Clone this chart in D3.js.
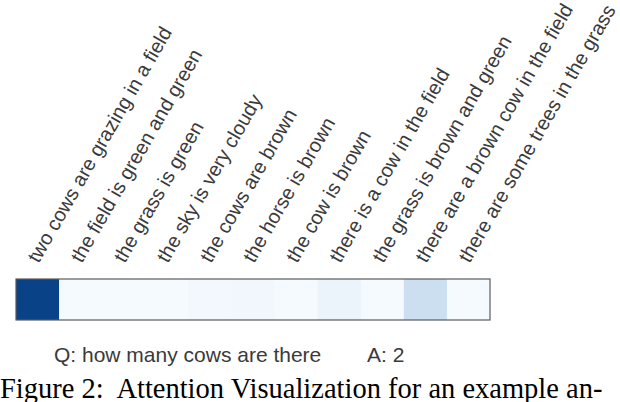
<!DOCTYPE html>
<html>
<head>
<meta charset="utf-8">
<script src="https://cdn.jsdelivr.net/npm/d3@7"></script>
<style>
  body { margin: 0; background: #fff; }
  svg { display: block; }
</style>
</head>
<body>
<div id="chart"></div>
<script>
const sentences = [
    'two cows are grazing in a field',
    'the field is green and green',
    'the grass is green',
    'the sky is very cloudy',
    'the cows are brown',
    'the horse is brown',
    'the cow is brown',
    'there is a cow in the field',
    'the grass is brown and green',
    'there are a brown cow in the field',
    'there are some trees in the grass'
];
const attention = [0.93, 0.01, 0.01, 0.01, 0.025, 0.03, 0.01, 0.06, 0.01, 0.22, 0.01];
const question = 'Q: how many cows are there';
const answer = 'A: 2';
const caption = 'Figure 2:  Attention Visualization for an example an-';

const width = 620;
const height = 402;
const stripLeft = 16;
const stripRight = 490;
const stripTop = 279;
const stripHeight = 41;

function buildChart() {
    const svg = d3.select('#chart')
        .append('svg')
        .attr('width', width)
        .attr('height', height);

    const xScale = d3.scaleBand()
        .domain(sentences.map((d, i) => i))
        .range([stripLeft, stripRight])
        .padding(0);

    const color = d3.scaleSequential(d3.interpolateBlues)
        .domain([0, 1]);

    svg.selectAll('rect.cell')
        .data(attention)
        .enter()
        .append('rect')
        .attr('class', 'cell')
        .attr('x', (d, i) => xScale(i))
        .attr('y', stripTop)
        .attr('width', xScale.bandwidth() + 0.5)
        .attr('height', stripHeight)
        .attr('fill', d => color(d));

    // frame round the strip
    svg.append('rect')
        .attr('x', stripLeft)
        .attr('y', stripTop)
        .attr('width', stripRight - stripLeft)
        .attr('height', stripHeight)
        .attr('fill', 'none')
        .attr('stroke', '#5a5a5a')
        .attr('stroke-width', 1.2);

    // rotated sentence labels
    svg.selectAll('text.label')
        .data(sentences)
        .enter()
        .append('text')
        .attr('class', 'label')
        .attr('transform', (d, i) => {
            const x = xScale(i) + xScale.bandwidth() / 2 + 1;
            const y = stripTop - 15;
            return 'translate(' + x + ',' + y + ') rotate(-60)';
        })
        .attr('font-family', 'Liberation Sans, Arial, sans-serif')
        .attr('font-size', 20)
        .attr('fill', '#3a3a3a')
        .text(d => d);

    svg.append('text')
        .attr('x', 54)
        .attr('y', 362)
        .attr('font-family', 'Liberation Sans, Arial, sans-serif')
        .attr('font-size', 21)
        .attr('fill', '#3a3a3a')
        .text(question);

    svg.append('text')
        .attr('x', 367)
        .attr('y', 362)
        .attr('font-family', 'Liberation Sans, Arial, sans-serif')
        .attr('font-size', 21)
        .attr('fill', '#3a3a3a')
        .text(answer);

    svg.append('text')
        .attr('x', 0)
        .attr('y', 398)
        .attr('font-family', 'Liberation Serif, Times New Roman, serif')
        .attr('font-size', 28.5)
        .attr('fill', '#000')
        .style('white-space', 'pre')
        .text(caption);
}

document.addEventListener('DOMContentLoaded', () => buildChart());
</script>
</body>
</html>
